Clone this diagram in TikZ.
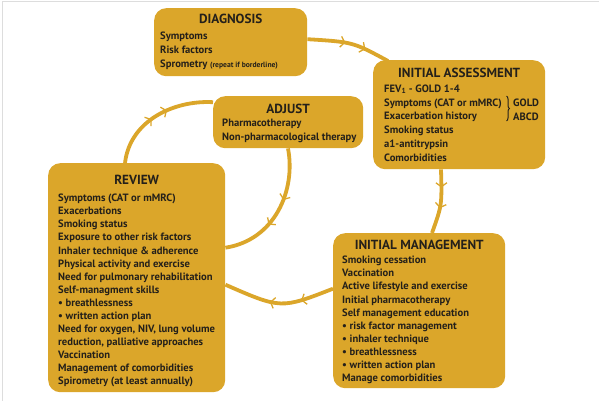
\documentclass[tikz,border=0pt]{standalone}
\usepackage{fontspec}
\setmainfont{PT Sans}
\usetikzlibrary{calc,arrows.meta,decorations.markings,decorations.pathreplacing,backgrounds}
\definecolor{gold}{RGB}{219,166,42}
\definecolor{ink}{RGB}{36,32,26}
\definecolor{frame}{RGB}{221,221,221}
\newcommand{\bodyfont}[1]{\bfseries\fontsize{10.6}{#1}\selectfont}
\tikzset{
    box/.style={fill=gold, rounded corners=12pt, inner sep=0pt, anchor=north west},
    head/.style={font=\bfseries\fontsize{13.2}{15}\selectfont, text=ink, inner sep=0pt, anchor=base},
    body/.style={font=\bodyfont{#1}, text=ink, align=left, inner sep=0pt, anchor=north west},
    body/.default=13.1,
    chev/.tip={Straight Barb[length=4pt,width=11pt,line width=1.3pt]},
    flow/.style 2 args={draw=gold, line width=3.8pt, postaction={decorate}, decoration={markings, mark=at position #1 with {\arrow{chev}}, mark=at position #2 with {\arrow{chev}}}}
}

\begin{document}
\begin{tikzpicture}[x=1pt,y=-1pt]
    \useasboundingbox (0,0) rectangle (599,401);
    \draw[frame, line width=1pt] (2,401) -- (2,2) -- (599,2);

    \node[box, minimum width=153, minimum height=68] (diag) at (154,8) {};
    \node[head] (diagT) at ($(diag.north)+(0,15.5)$) {DIAGNOSIS};
    \node[body=14] (diagB) at (160,31.5) {Symptoms\\Risk factors\\Sprometry {\fontsize{7.6}{8}\selectfont (repeat if borderline)}};

    \node[box, minimum width=172, minimum height=109] (assess) at (373,60) {};
    \node[head] (assessT) at ($(assess.north)+(0,17.5)$) {INITIAL ASSESSMENT};
    \node[body=13.8] (assessB) at (384,84.5) {FEV\textsubscript{1} - GOLD 1-4\\Symptoms (CAT or mMRC)\\Exacerbation history\\Smoking status\\a1-antitrypsin\\Comorbidities};
    \draw[ink, line width=1pt, decorate, decoration={brace, amplitude=3pt}] (506.5,96) -- (506.5,121);
    \node[body=13.8] (gold) at (513,98.5) {GOLD\\ABCD};

    \node[box, minimum width=150, minimum height=52] (adjust) at (213,96) {};
    \node[head] (adjustT) at ($(adjust.north)+(0,17.5)$) {ADJUST};
    \node[body=14] (adjustB) at (222,118.5) {Pharmacotherapy\\Non-pharmacological therapy};

    \node[box, minimum width=177, minimum height=229] (review) at (48,163) {};
    \node[head] (reviewT) at ($(review.north)+(0,21.5)$) {REVIEW};
    \node[body=13.07] (reviewB) at (58,194) {Symptoms (CAT or mMRC)\\Exacerbations\\Smoking status\\Exposure to other risk factors\\Inhaler technique \& adherence\\Physical activity and exercise\\Need for pulmonary rehabilitation\\Self-managment skills\\\textbullet\ breathlessness\\\textbullet\ written action plan\\Need for oxygen, NIV, lung volume\\reduction, palliative approaches\\Vaccination\\Management of comorbidities\\Spirometry (at least annually)};

    \node[box, minimum width=172, minimum height=155] (manage) at (333,233) {};
    \node[head] (manageT) at ($(manage.north)+(0,16.5)$) {INITIAL MANAGEMENT};
    \node[body] (manageB) at (342,256) {Smoking cessation\\Vaccination\\Active lifestyle and exercise\\Initial pharmacotherapy\\Self management education\\\textbullet\ risk factor management\\\textbullet\ inhaler technique\\\textbullet\ breathlessness\\\textbullet\ written action plan\\Manage comorbidities};

    \begin{scope}[on background layer]
    \draw[flow={0.45}{0.7}] ($(diag.east)+(0,-3)$) .. controls (353,42) .. ($(assess.north west)+(15,1)$);
    \draw[flow={0.28}{0.6}] ($(assess.south west)+(68,0)$) .. controls (442,205) .. ($(manage.north west)+(99,0)$);
    \draw[flow={0.3}{0.58}] ($(manage.west)+(0,-22)$) .. controls (281,309) .. ($(review.east)+(0,7)$);
    \draw[flow={0.45}{0.6}] ($(review.north west)+(77,0)$) .. controls (130,120) and (175,100) .. ($(adjust.west)+(0,-20)$);
    \draw[flow={0.4}{0.62}] ($(adjust.south west)+(75,0)$) .. controls (296,190) and (275,240) .. ($(review.east)+(0,-30)$);
    \end{scope}
\end{tikzpicture}
\end{document}
